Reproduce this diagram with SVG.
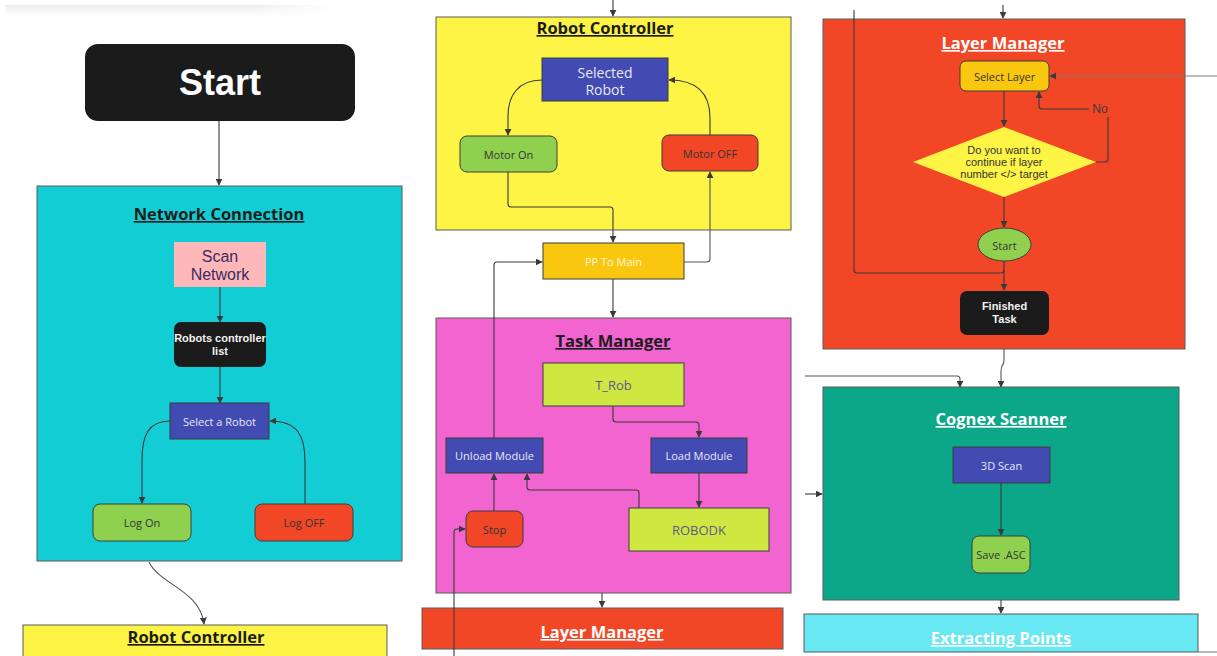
<svg xmlns="http://www.w3.org/2000/svg" width="1217" height="656" viewBox="0 0 1217 656">
  <defs>
    <marker id="arr" viewBox="0 0 10 10" refX="9" refY="5" markerWidth="7" markerHeight="7" orient="auto-start-reverse" markerUnits="userSpaceOnUse">
      <path d="M0,0 L10,5 L0,10 z" fill="#3a3a3a"/>
    </marker>
    <linearGradient id="shadeV" x1="0" y1="0" x2="0" y2="1">
      <stop offset="0" stop-color="#ececf0"/>
      <stop offset="1" stop-color="#ffffff" stop-opacity="0"/>
    </linearGradient>
    <linearGradient id="shadeH" x1="0" y1="0" x2="1" y2="0">
      <stop offset="0" stop-color="#fff" stop-opacity="0"/>
      <stop offset="0.75" stop-color="#fff" stop-opacity="0"/>
      <stop offset="1" stop-color="#fff" stop-opacity="1"/>
    </linearGradient>
    <style>
      .frame { stroke: #5a5a5a; stroke-width: 1; }
      .node { stroke: #3c3c3c; stroke-width: 1; }
      .title { font-family: "Open Sans", "Noto Sans", sans-serif; font-weight: 700; font-size: 16.5px; text-anchor: middle; text-decoration: underline; }
      .lbl { font-family: "Open Sans", "Noto Sans", sans-serif; font-size: 11px; text-anchor: middle; dominant-baseline: central; }
      .lbl-md { font-size: 13px; }
      .lbl-lg { font-size: 14px; }
      .arial { font-family: "Liberation Sans", Arial, sans-serif; text-anchor: middle; }
      .wire { fill: none; stroke: #3a3a3a; stroke-width: 1.1; }
      .wire-lt { fill: none; stroke: #555555; stroke-width: 1.1; }
    </style>
  </defs>

  <rect width="1217" height="656" fill="#ffffff"/>

  <!-- soft toolbar shadow -->
  <rect x="5" y="5" width="330" height="16" fill="url(#shadeV)"/>
  <rect x="5" y="5" width="330" height="16" fill="url(#shadeH)"/>

  <!-- ===== containers ===== -->
  <g id="network-connection">
    <rect x="37" y="186" width="365" height="375" fill="#13cdd4" class="frame"/>
    <text x="219" y="220" class="title" fill="#1c1c1c">Network Connection</text>
  </g>

  <g id="robot-controller-lower">
    <rect x="23" y="625" width="364" height="40" fill="#fef445" class="frame"/>
    <text x="196" y="643" class="title" fill="#1c1c1c">Robot Controller</text>
  </g>

  <g id="robot-controller">
    <rect x="436" y="17" width="355" height="213" fill="#fef445" class="frame"/>
    <text x="605" y="34" class="title" fill="#1c1c1c">Robot Controller</text>
  </g>

  <g id="task-manager">
    <rect x="436" y="318" width="355" height="275" fill="#f264cf" class="frame"/>
    <text x="613" y="347" class="title" fill="#1c1c1c">Task Manager</text>
  </g>

  <g id="layer-manager-lower">
    <rect x="422" y="608" width="361" height="41" fill="#f24726" class="frame"/>
    <text x="602" y="638" class="title" fill="#ffffff">Layer Manager</text>
  </g>

  <g id="layer-manager">
    <rect x="823" y="19" width="362" height="330" fill="#f24726" class="frame"/>
    <text x="1003" y="49" class="title" fill="#ffffff">Layer Manager</text>
  </g>

  <g id="cognex-scanner">
    <rect x="823" y="387" width="356" height="213" fill="#0ca789" class="frame"/>
    <text x="1001" y="425" class="title" fill="#ffffff">Cognex Scanner</text>
  </g>

  <g id="extracting-points">
    <rect x="804" y="614" width="394" height="38" fill="#67e8f2" class="frame"/>
    <text x="1001" y="644" class="title" fill="#ffffff">Extracting Points</text>
  </g>

  <!-- ===== connectors ===== -->
  <g id="connectors">
    <!-- left column -->
    <path class="wire" d="M219,121 V185" marker-end="url(#arr)"/>
    <path class="wire" d="M220,287 V322" marker-end="url(#arr)"/>
    <path class="wire" d="M220,367 V403" marker-end="url(#arr)"/>
    <path class="wire" d="M170,421 C148,421 142,436 142,460 V503" marker-end="url(#arr)"/>
    <path class="wire" d="M305,504 V462 C305,436 298,421 270,421" marker-end="url(#arr)"/>
    <path class="wire-lt" d="M149,562 C160,585 200,590 204,624" marker-end="url(#arr)"/>

    <!-- middle column -->
    <path class="wire" d="M613,0 V16" marker-end="url(#arr)"/>
    <path class="wire" d="M542,80 C518,80 508,96 508,116 V135" marker-end="url(#arr)"/>
    <path class="wire" d="M710,135 V118 C710,96 700,80 669,80" marker-end="url(#arr)"/>
    <path class="wire" d="M508,172 V204 Q508,207 511,207 H610 Q613,207 613,210 V242" marker-end="url(#arr)"/>
    <path class="wire-lt" d="M684,262 H707 Q710,262 710,259 V172" marker-end="url(#arr)"/>
    <path class="wire" d="M613,279 V317" marker-end="url(#arr)"/>
    <path class="wire" d="M613,406 V419 Q613,422 616,422 H696 Q699,422 699,425 V437" marker-end="url(#arr)"/>
    <path class="wire" d="M699,473 V507" marker-end="url(#arr)"/>
    <path class="wire" d="M639,508 V493 Q639,490 636,490 H530 Q527,490 527,487 V474" marker-end="url(#arr)"/>
    <path class="wire" d="M494,511 V474" marker-end="url(#arr)"/>
    <path class="wire" d="M454,656 V532 Q454,529 457,529 H465" marker-end="url(#arr)"/>
    <path class="wire" d="M494,438 V265 Q494,262 497,262 H542" marker-end="url(#arr)"/>
    <path class="wire" d="M602,593 V607" marker-end="url(#arr)"/>

    <!-- right column -->
    <path class="wire" d="M1003,5 V18" marker-end="url(#arr)"/>
    <path class="wire" d="M854,10 V270 Q854,273 857,273 H1001 Q1004,273 1004,270"/>
    <path class="wire-lt" d="M1217,76 H1050" marker-end="url(#arr)" style="stroke:#7a7a7a"/>
    <path class="wire" d="M1004,91 V126" marker-end="url(#arr)"/>
    <path class="wire" d="M1096,162 H1105 Q1108,162 1108,159 V117"/>
    <path class="wire" d="M1089,109 H1042 Q1039,109 1039,106 V92" marker-end="url(#arr)"/>
    <path class="wire" d="M1004,197 V227" marker-end="url(#arr)"/>
    <path class="wire" d="M1004,261 V290" marker-end="url(#arr)"/>
    <path class="wire-lt" d="M1004,349 V360 Q1004,364 1002,366 Q1001,368 1001,372 V387" marker-end="url(#arr)"/>
    <path class="wire-lt" d="M805,376 H957 Q960,376 960,379 V387" marker-end="url(#arr)"/>
    <path class="wire" d="M805,494 H822" marker-end="url(#arr)"/>
    <path class="wire" d="M1001,483 V535" marker-end="url(#arr)"/>
    <path class="wire" d="M1001,600 V613" marker-end="url(#arr)"/>
    <path class="wire-lt" d="M1198,652 H1217" style="stroke:#7a7a7a"/>
  </g>

  <!-- ===== nodes ===== -->
  <g id="start">
    <rect x="85" y="44" width="270" height="77" rx="13" fill="#1b1b1b"/>
    <text x="220" y="95" class="arial" font-size="36" font-weight="700" fill="#ffffff">Start</text>
  </g>

  <g id="scan-network">
    <rect x="174" y="242" width="92" height="45" fill="#ffb8ba"/>
    <text class="arial" font-size="16" fill="#3b2c5e"><tspan x="220" y="262">Scan</tspan><tspan x="220" y="280">Network</tspan></text>
  </g>

  <g id="robots-controller-list">
    <rect x="174" y="322" width="92" height="45" rx="7" fill="#1b1b1b"/>
    <text class="arial" font-size="11" font-weight="700" fill="#f2f2f2"><tspan x="220" y="342">Robots controller</tspan><tspan x="220" y="355">list</tspan></text>
  </g>

  <g id="select-a-robot">
    <rect x="170" y="403" width="99" height="36" fill="#414bb2" class="node"/>
    <text x="219.5" y="421.5" class="lbl" fill="#e8e8f8">Select a Robot</text>
  </g>

  <g id="log-on">
    <rect x="93" y="504" width="98" height="37" rx="7" fill="#8fd14f" class="node"/>
    <text x="142" y="522.5" class="lbl" fill="#333333">Log On</text>
  </g>

  <g id="log-off">
    <rect x="255" y="504" width="98" height="37" rx="7" fill="#f24726" class="node"/>
    <text x="304" y="522.5" class="lbl" fill="#333333">Log OFF</text>
  </g>

  <g id="selected-robot">
    <rect x="542" y="58" width="126" height="43" fill="#414bb2" class="node"/>
    <text class="lbl lbl-lg" fill="#e8e8f8"><tspan x="605" y="71.5">Selected</tspan><tspan x="605" y="89">Robot</tspan></text>
  </g>

  <g id="motor-on">
    <rect x="460" y="136" width="97" height="36" rx="7" fill="#8fd14f" class="node"/>
    <text x="508.5" y="154" class="lbl" fill="#333333">Motor On</text>
  </g>

  <g id="motor-off">
    <rect x="662" y="135" width="96" height="36" rx="7" fill="#f24726" class="node"/>
    <text x="710" y="153" class="lbl" fill="#333333">Motor OFF</text>
  </g>

  <g id="pp-to-main">
    <rect x="543" y="243" width="141" height="36" fill="#fac710" class="node"/>
    <text x="613.5" y="261.5" class="lbl" fill="#fff6d8">PP To Main</text>
  </g>

  <g id="t-rob">
    <rect x="543" y="363" width="141" height="43" fill="#cee741" class="node"/>
    <text x="613.5" y="385" class="lbl lbl-md" fill="#5a5a8c">T_Rob</text>
  </g>

  <g id="unload-module">
    <rect x="446" y="438" width="97" height="35" fill="#414bb2" class="node"/>
    <text x="494.5" y="455.5" class="lbl" fill="#e8e8f8">Unload Module</text>
  </g>

  <g id="load-module">
    <rect x="651" y="438" width="96" height="35" fill="#414bb2" class="node"/>
    <text x="699" y="455.5" class="lbl" fill="#e8e8f8">Load Module</text>
  </g>

  <g id="robodk">
    <rect x="629" y="508" width="140" height="43" fill="#cee741" class="node"/>
    <text x="699" y="530" class="lbl lbl-md" fill="#5a5a8c">ROBODK</text>
  </g>

  <g id="stop">
    <rect x="466" y="511" width="57" height="36" rx="7" fill="#f24726" class="node"/>
    <text x="494.5" y="529.5" class="lbl" fill="#333333">Stop</text>
  </g>

  <g id="select-layer">
    <rect x="960" y="61" width="89" height="30" rx="6" fill="#fac710" class="node"/>
    <text x="1004.5" y="76.5" class="lbl" fill="#333333">Select Layer</text>
  </g>

  <g id="continue-decision">
    <polygon points="1004,127 1096,162 1004,197 913,162" fill="#fef445"/>
    <text class="arial" font-size="11" fill="#333333"><tspan x="1004" y="154">Do you want to</tspan><tspan x="1004" y="166">continue if layer</tspan><tspan x="1004" y="178">number &lt;/&gt; target</tspan></text>
    <text x="1100" y="113" class="arial" font-size="12" fill="#3a3a3a">No</text>
  </g>

  <g id="layer-start">
    <ellipse cx="1004.5" cy="244.5" rx="26.5" ry="16.5" fill="#8fd14f" class="node"/>
    <text x="1004.5" y="245" class="lbl" fill="#333333">Start</text>
  </g>

  <g id="finished-task">
    <rect x="960" y="291" width="89" height="44" rx="7" fill="#1b1b1b"/>
    <text class="arial" font-size="11" font-weight="700" fill="#f2f2f2"><tspan x="1004.5" y="310">Finished</tspan><tspan x="1004.5" y="323">Task</tspan></text>
  </g>

  <g id="scan-3d">
    <rect x="953" y="447" width="97" height="36" fill="#414bb2" class="node"/>
    <text x="1001.5" y="465" class="lbl" fill="#e8e8f8">3D Scan</text>
  </g>

  <g id="save-asc">
    <rect x="972" y="536" width="58" height="37" rx="7" fill="#8fd14f" class="node"/>
    <text x="1001" y="554.5" class="lbl" fill="#333333">Save .ASC</text>
  </g>
</svg>
